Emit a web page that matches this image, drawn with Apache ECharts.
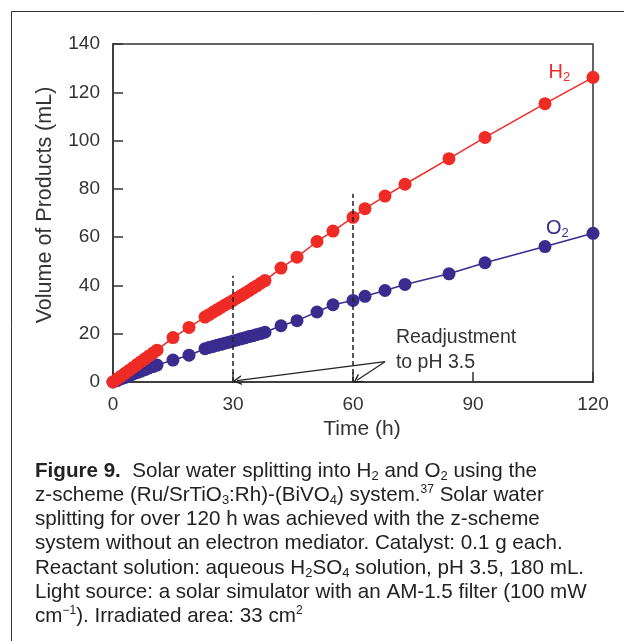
<!DOCTYPE html>
<html>
<head>
<meta charset="utf-8">
<script src="https://cdn.jsdelivr.net/npm/echarts@6/dist/echarts.min.js"></script>
<style>
html,body{margin:0;padding:0;background:#fff;}
#chart{width:624px;height:641px;}
</style>
</head>
<body>
<div id="chart"></div>
<script>
// Time (h) and volumes (mL)
const timeH2 = [0,1,2,3,4,5,6,7,8,9,10,11,15,19,23,24,25,26,27,28,29,30,31,32,33,34,35,36,37,38,42,46,51,55,60,63,68,73,84,93,108,120];
const volH2  = [0,1.2,2.4,3.6,4.8,6.0,7.2,8.4,9.6,10.8,12.0,13.2,18.4,22.6,26.9,27.9,28.9,29.9,30.9,31.9,32.8,33.8,34.8,35.8,36.8,37.8,38.9,39.9,41.0,42.0,47.2,51.7,58.2,62.5,68.2,71.8,77.0,81.9,92.5,101.3,115.3,126.2];
const timeO2 = [0,1,2,3,4,5,6,7,8,9,10,11,15,19,23,24,25,26,27,28,29,30,31,32,33,34,35,36,37,38,42,46,51,55,60,63,68,73,84,93,108,120];
const volO2  = [0,0.6,1.3,1.9,2.6,3.2,3.9,4.5,5.1,5.8,6.4,7.0,9.1,11.1,13.8,14.3,14.7,15.2,15.6,16.1,16.5,17.0,17.4,17.9,18.3,18.8,19.2,19.7,20.1,20.6,23.3,25.4,29.0,32.0,33.8,35.5,37.9,40.4,44.8,49.4,56.1,61.6];
const xTicks = [0,30,60,90,120];
const yTicks = [0,20,40,60,80,100,120,140];
const readjustTimes = [30,60];
const readjustTops = [44,78];

const RED = '#ee2b24', BLUE = '#3a2c8e', INK = '#333';
const FONT = 'Arial, "Liberation Sans", Helvetica, sans-serif';
const CHEVRON = 'path://M0,10 L5,0 L10,10 L8.4,10 L5,3.2 L1.6,10 Z';

const chart = echarts.init(document.getElementById('chart'), null, {renderer:'canvas'});
const pair = (xs, ys) => xs.map((x,i)=>[x, ys[i]]);

const captionLines = [
  '{b|Figure 9.}  Solar water splitting into H{s|2} and O{s|2} using the',
  'z-scheme (Ru/SrTiO{s|3}:Rh)-(BiVO{s|4}) system.{p|37} Solar water',
  'splitting for over 120 h was achieved with the z-scheme',
  'system without an electron mediator. Catalyst: 0.1 g each.',
  'Reactant solution: aqueous H{s|2}SO{s|4} solution, pH 3.5, 180 mL.',
  'Light source: a solar simulator with an AM-1.5 filter (100 mW',
  'cm{p|\u22121}). Irradiated area: 33 cm{p|2}'
];

chart.setOption({
  animation: false,
  backgroundColor: '#fff',
  textStyle: {fontFamily: FONT},
  grid: {left: 113, right: 31, top: 44, bottom: 259, show: true, borderColor: INK, borderWidth: 1.5, containLabel: false},
  xAxis: {
    type: 'value', min: xTicks[0], max: xTicks[xTicks.length-1], interval: 30,
    axisLine: {lineStyle: {color: INK, width: 1.5}},
    axisTick: {inside: true, length: 10, lineStyle: {color: INK, width: 1.5}},
    axisLabel: {fontSize: 19, color: INK, margin: 13, fontFamily: FONT},
    splitLine: {show: false},
    name: 'Time (h)', nameLocation: 'middle', nameGap: 35,
    nameTextStyle: {fontSize: 21, color: INK, fontFamily: FONT, padding: [0,0,0,18]}
  },
  yAxis: {
    type: 'value', min: yTicks[0], max: yTicks[yTicks.length-1], interval: 20,
    axisLine: {show: true, lineStyle: {color: INK, width: 1.5}},
    axisTick: {show: true, inside: true, length: 10, lineStyle: {color: INK, width: 1.5}},
    axisLabel: {fontSize: 19, color: INK, margin: 13, fontFamily: FONT},
    splitLine: {show: false},
    name: 'Volume of Products (mL)', nameLocation: 'middle', nameGap: 57,
    nameTextStyle: {fontSize: 21.5, color: INK, fontFamily: FONT, padding: [0,0,0,16]}
  },
  series: [
    {
      name: 'O2', type: 'line', data: pair(timeO2, volO2),
      symbol: 'circle', symbolSize: 13, showAllSymbol: true,
      itemStyle: {color: BLUE}, lineStyle: {color: BLUE, width: 1.5},
      markPoint: {
        symbol: 'circle', symbolSize: 1, itemStyle: {color: 'rgba(0,0,0,0)'},
        data: [{coord: [111.1, 63.5], value: 'O2',
          label: {show: true, position: 'inside', formatter: '{a|O}{s|2}',
            rich: {a: {fontSize: 20, color: BLUE, fontFamily: FONT, lineHeight: 22},
                   s: {fontSize: 13, color: BLUE, fontFamily: FONT, lineHeight: 14, verticalAlign: 'bottom'}}}}]
      }
    },
    {
      name: 'H2', type: 'line', data: pair(timeH2, volH2),
      symbol: 'circle', symbolSize: 13, showAllSymbol: true,
      itemStyle: {color: RED}, lineStyle: {color: RED, width: 1.5},
      markPoint: {
        symbol: 'circle', symbolSize: 1, itemStyle: {color: 'rgba(0,0,0,0)'},
        data: [
          {coord: [111.6, 128.2], value: 'H2',
            label: {show: true, position: 'inside', formatter: '{a|H}{s|2}',
              rich: {a: {fontSize: 20, color: RED, fontFamily: FONT, lineHeight: 22},
                     s: {fontSize: 13, color: RED, fontFamily: FONT, lineHeight: 14, verticalAlign: 'bottom'}}}},
          {coord: [70.6, 13.0], value: 'r',
            label: {show: true, position: 'right', distance: 0, formatter: 'Readjustment\nto pH 3.5',
              fontSize: 19.5, lineHeight: 25, color: INK, fontFamily: FONT}}
        ]
      },
      markLine: {
        silent: true, animation: false,
        label: {show: false},
        data: [
          [{coord: [readjustTimes[0], 0], symbol: 'none', lineStyle: {type: [5,3], color: '#222', width: 1.5}},
           {coord: [readjustTimes[0], readjustTops[0]], symbol: 'none'}],
          [{coord: [readjustTimes[1], 0], symbol: 'none', lineStyle: {type: [5,3], color: '#222', width: 1.5}},
           {coord: [readjustTimes[1], readjustTops[1]], symbol: 'none'}],
          [{coord: [68, 8.4], symbol: 'none', lineStyle: {type: 'solid', color: '#222', width: 1.2}},
           {coord: [31.0, 0.55], symbol: CHEVRON, symbolSize: [10, 9]}],
          [{coord: [68, 8.4], symbol: 'none', lineStyle: {type: 'solid', color: '#222', width: 1.2}},
           {coord: [61.0, 0.7], symbol: CHEVRON, symbolSize: [10, 9]}]
        ]
      }
    }
  ],
  graphic: [
    {type: 'rect', silent: true, z: -1,
     shape: {x: 11.5, y: 11.5, width: 700, height: 700}, style: {fill: 'none', stroke: '#333', lineWidth: 1}},
    {type: 'text', left: 35, top: 459, silent: true,
     style: {
       text: captionLines.join('\n'),
       fontSize: 20.6, lineHeight: 24.2, fill: '#222', fontFamily: FONT,
       rich: {
         b: {fontWeight: 'bold', fontSize: 20.6, lineHeight: 24.2, fill: '#222', fontFamily: FONT},
         s: {fontSize: 13, lineHeight: 15, verticalAlign: 'bottom', fill: '#222', fontFamily: FONT},
         p: {fontSize: 12, lineHeight: 17, verticalAlign: 'top', fill: '#222', fontFamily: FONT}
       }
     }}
  ]
});
</script>
</body>
</html>
